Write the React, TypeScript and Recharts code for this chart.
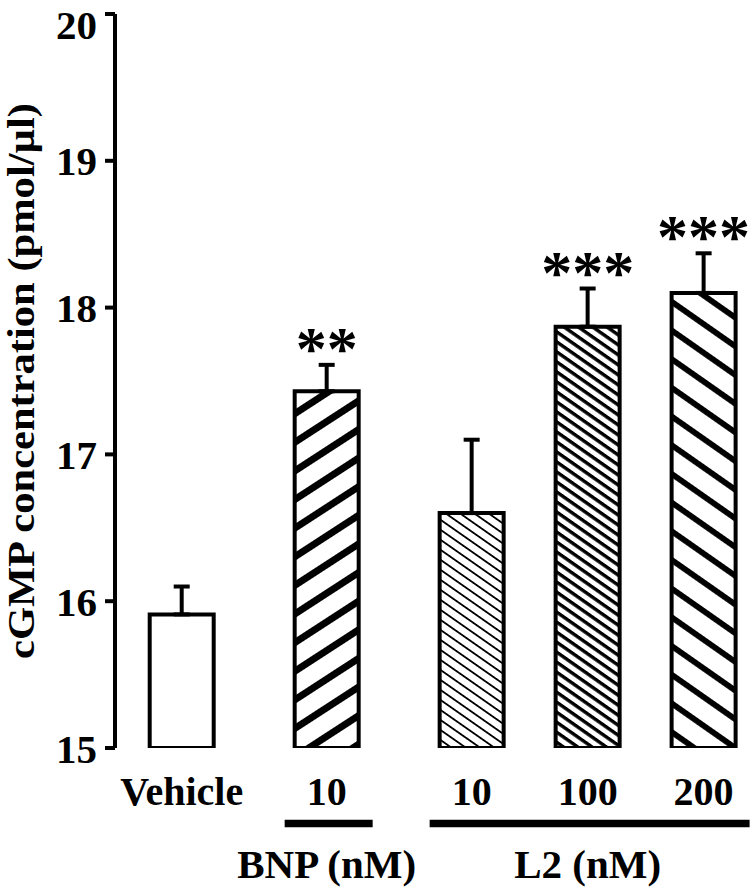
import React from 'react';
import { BarChart, Bar, XAxis, YAxis, ErrorBar, Cell, LabelList } from 'recharts';

// values (mean + SEM, upper error bars only)
const categories = ['Vehicle', '10', '10', '100', '200'];
const groups = ['', 'BNP (nM)', 'L2 (nM)', 'L2 (nM)', 'L2 (nM)'];
const means = [15.91, 17.43, 16.6, 17.87, 18.1];
const sems = [0.19, 0.18, 0.5, 0.26, 0.27];
const stars = ['', '**', '', '***', '***'];
const yTicks = [15, 16, 17, 18, 19, 20];

// fill per bar (styles, kept apart from the data)
const fills = ['#fff', 'url(#hatchBnp)', 'url(#hatchL2a)', 'url(#hatchL2b)', 'url(#hatchL2c)'];

const W = 750;
const H = 888;
const Y_AXIS_W = 115;
const X_DOMAIN: [number, number] = [-2.3, 19.6];
const PX_PER_SLOT = (W - Y_AXIS_W) / (X_DOMAIN[1] - X_DOMAIN[0]);
const FONT = '"Liberation Serif", "Times New Roman", serif';

// bars sit 4 slots apart, plus one extra slot whenever the group changes
let groupStep = 0;
const slots = categories.map((_, i) => {
  if (i > 0 && groups[i] !== groups[i - 1]) groupStep += 1;
  return i * 4 + groupStep;
});

const data = categories.map((name, i) => ({
  name,
  slot: slots[i],
  mean: means[i],
  err: [0, sems[i]],
  stars: stars[i],
}));

const groupList = groups
  .filter((g, i) => g && groups.indexOf(g) === i)
  .map(label => {
    const s = slots.filter((_, i) => groups[i] === label);
    return { label, first: s[0], last: s[s.length - 1], center: (s[0] + s[s.length - 1]) / 2 };
  });

const textStyle = { fontFamily: FONT, fontWeight: 700, fill: '#000' };

// category label, plus the group underline + name under the first bar of each group
const CatTick = (props: any) => {
  const { x, y, payload } = props;
  const i = slots.indexOf(payload.value);
  if (i < 0) return null;
  const grp = groupList.find(g => g.first === payload.value);
  let groupMark = null;
  if (grp) {
    const cx = x + (grp.center - grp.first) * PX_PER_SLOT;
    const x1 = x - 42;
    const x2 = x + (grp.last - grp.first) * PX_PER_SLOT + 46;
    groupMark = (
      <g>
        <line x1={x1} x2={x2} y1={y + 75.5} y2={y + 75.5} stroke="#000" strokeWidth={7.5} />
        <text x={cx} y={y + 130} textAnchor="middle" fontSize={41} {...textStyle}>
          {grp.label}
        </text>
      </g>
    );
  }
  return (
    <g>
      <text x={x} y={y + 57} textAnchor="middle" fontSize={40} {...textStyle}>
        {categories[i]}
      </text>
      {groupMark}
    </g>
  );
};

const Stars = (props: any) => {
  const vb = props.viewBox && props.viewBox.width != null ? props.viewBox : props;
  const { x, y, width, height } = vb;
  const { index, value } = props;
  if (!value) return null;
  const pxPerUnit = height / (means[index] - 15);
  const capY = y - sems[index] * pxPerUnit;
  return (
    <text x={x + width / 2} y={capY + 4} textAnchor="middle" fontSize={62} {...textStyle}>
      {value}
    </text>
  );
};

const YTitle = (props: any) => {
  const vb = props.viewBox;
  const cx = vb.x + 34;
  const cy = vb.y + vb.height / 2;
  return (
    <text
      x={cx}
      y={cy}
      transform={`rotate(-90, ${cx}, ${cy})`}
      textAnchor="middle"
      fontSize={37}
      textLength={556}
      lengthAdjust="spacingAndGlyphs"
      {...textStyle}
    >
      cGMP concentration (pmol/µl)
    </text>
  );
};

export default function App() {
  return (
    <div style={{ position: 'absolute', left: 0, top: 0, width: W, height: H, background: '#fff' }}>
      <BarChart width={W} height={H} data={data} margin={{ top: 14, right: 0, bottom: 0, left: 0 }}>
        <defs>
          <pattern id="hatchBnp" patternUnits="userSpaceOnUse" width={24} height={24} patternTransform="rotate(-33)">
            <rect width={24} height={24} fill="#fff" />
            <rect width={24} height={7} fill="#000" />
          </pattern>
          <pattern id="hatchL2a" patternUnits="userSpaceOnUse" width={8.2} height={8.2} patternTransform="rotate(35)">
            <rect width={8.2} height={8.2} fill="#fff" />
            <rect width={8.2} height={1.8} fill="#000" />
          </pattern>
          <pattern id="hatchL2b" patternUnits="userSpaceOnUse" width={8.2} height={8.2} patternTransform="rotate(35)">
            <rect width={8.2} height={8.2} fill="#fff" />
            <rect width={8.2} height={3.4} fill="#000" />
          </pattern>
          <pattern id="hatchL2c" patternUnits="userSpaceOnUse" width={23.5} height={23.5} patternTransform="rotate(35)">
            <rect width={23.5} height={23.5} fill="#fff" />
            <rect width={23.5} height={5.8} fill="#000" />
          </pattern>
        </defs>
        <XAxis
          xAxisId="cat"
          type="number"
          dataKey="slot"
          domain={X_DOMAIN}
          allowDataOverflow
          ticks={slots}
          interval={0}
          axisLine={false}
          tickLine={false}
          tickSize={0}
          tickMargin={0}
          height={140}
          tick={<CatTick />}
        />
        <YAxis
          type="number"
          domain={[15, 20]}
          ticks={yTicks}
          allowDataOverflow
          width={Y_AXIS_W}
          axisLine={{ stroke: '#000', strokeWidth: 4 }}
          tickLine={{ stroke: '#000', strokeWidth: 4 }}
          tickSize={10}
          tickMargin={8}
          tick={{ fontSize: 41, ...textStyle }}
          label={<YTitle />}
        />
        <Bar xAxisId="cat" dataKey="mean" barSize={64} stroke="#000" strokeWidth={4} isAnimationActive={false}>
          {data.map((d, i) => (
            <Cell key={d.slot} fill={fills[i]} />
          ))}
          <ErrorBar dataKey="err" direction="y" width={8} stroke="#000" strokeWidth={4} isAnimationActive={false} />
          <LabelList dataKey="stars" content={Stars} />
        </Bar>
      </BarChart>
    </div>
  );
}
